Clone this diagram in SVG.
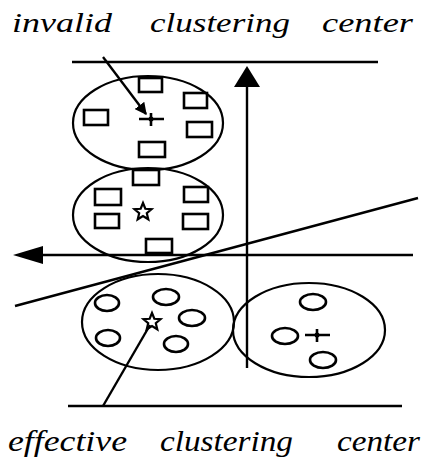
<svg xmlns="http://www.w3.org/2000/svg" width="427" height="460" viewBox="0 0 427 460">
<style>
.bg{fill:#fff}
.cl{fill:none;stroke:#000;stroke-width:2.2}
.sq{fill:none;stroke:#000;stroke-width:2.6}
.pt{fill:none;stroke:#000;stroke-width:2.6}
.ln{fill:none;stroke:#000;stroke-width:2.4}
.lbl{font-family:"Liberation Serif","Times New Roman",serif;font-style:italic;fill:#000}
</style>
<defs>
<path id="star" d="M0,-9 L2.35,-3.24 L8.56,-2.78 L3.8,1.24 L5.29,7.28 L0,4 L-5.29,7.28 L-3.8,1.24 L-8.56,-2.78 L-2.35,-3.24 Z" fill="none" stroke="#000" stroke-width="2.2"/>
<g id="cross"><path d="M-12,0 H13 M0,-6 V7" stroke="#000" stroke-width="2.6" fill="none"/><circle r="2.5" fill="#000"/></g>
<marker id="ah" viewBox="0 0 10 10" refX="9" refY="5" markerWidth="5" markerHeight="5" orient="auto"><path d="M0,0 L10,5 L0,10 Z" fill="#000"/></marker>
</defs>
<rect class="bg" width="427" height="460"/>
<g id="title-top"><text class="lbl" font-size="27" y="32"><tspan x="12" textLength="100" lengthAdjust="spacingAndGlyphs">invalid</tspan><tspan x="150" textLength="140" lengthAdjust="spacingAndGlyphs">clustering</tspan><tspan x="322" textLength="91" lengthAdjust="spacingAndGlyphs">center</tspan></text></g>
<g id="cluster-invalid">
<ellipse class="cl" cx="148" cy="123" rx="75" ry="47"/>
<rect class="sq" x="139" y="78" width="23" height="14"/>
<rect class="sq" x="184" y="93" width="23" height="15"/>
<rect class="sq" x="84" y="110" width="24" height="15"/>
<rect class="sq" x="187" y="122" width="25" height="15"/>
<rect class="sq" x="139" y="142" width="26" height="15"/>
<use href="#cross" x="151" y="119"/>
</g>
<g id="cluster-squares-effective">
<ellipse class="cl" cx="148" cy="215" rx="75" ry="47"/>
<rect class="sq" x="133" y="170" width="26" height="15"/>
<rect class="sq" x="95" y="189" width="26" height="16"/>
<rect class="sq" x="184" y="187" width="24" height="15"/>
<rect class="sq" x="95" y="214" width="24" height="14"/>
<rect class="sq" x="183" y="214" width="25" height="15"/>
<rect class="sq" x="146" y="239" width="26" height="14"/>
<use href="#star" x="143" y="212"/>
</g>
<g id="cluster-circles-effective">
<ellipse class="cl" cx="158" cy="322" rx="76" ry="48"/>
<ellipse class="pt" cx="107" cy="303" rx="12" ry="8"/>
<ellipse class="pt" cx="166" cy="297" rx="13" ry="8"/>
<ellipse class="pt" cx="192" cy="318" rx="13" ry="8"/>
<ellipse class="pt" cx="108" cy="338" rx="12" ry="8"/>
<ellipse class="pt" cx="176" cy="344" rx="12" ry="8"/>
<use href="#star" x="152" y="322"/>
</g>
<g id="cluster-circles-invalid">
<ellipse class="cl" cx="309" cy="330" rx="76" ry="47"/>
<ellipse class="pt" cx="313" cy="302" rx="13" ry="8"/>
<ellipse class="pt" cx="285" cy="336" rx="13" ry="8"/>
<ellipse class="pt" cx="323" cy="360" rx="13" ry="8"/>
<use href="#cross" x="317" y="335"/>
</g>
<g id="connectors">
<line class="ln" x1="72" y1="62" x2="378" y2="62"/>
<line class="ln" x1="68" y1="406" x2="402" y2="406"/>
<line class="ln" x1="247" y1="368" x2="247" y2="84"/>
<path d="M247,66 L234,87 L260,87 Z" fill="#000"/>
<line class="ln" x1="413" y1="255" x2="40" y2="255"/>
<path d="M13,255 L43,246 L43,264 Z" fill="#000"/>
<line class="ln" x1="15" y1="306" x2="418" y2="198"/>
<line class="ln" x1="103" y1="57" x2="146" y2="114" marker-end="url(#ah)"/>
<line class="ln" x1="150" y1="325" x2="103" y2="406"/>
</g>
<g id="title-bottom"><text class="lbl" font-size="29" y="451"><tspan x="8" textLength="119" lengthAdjust="spacingAndGlyphs">effective</tspan><tspan x="160" textLength="133" lengthAdjust="spacingAndGlyphs">clustering</tspan><tspan x="337" textLength="83" lengthAdjust="spacingAndGlyphs">center</tspan></text></g>
</svg>
